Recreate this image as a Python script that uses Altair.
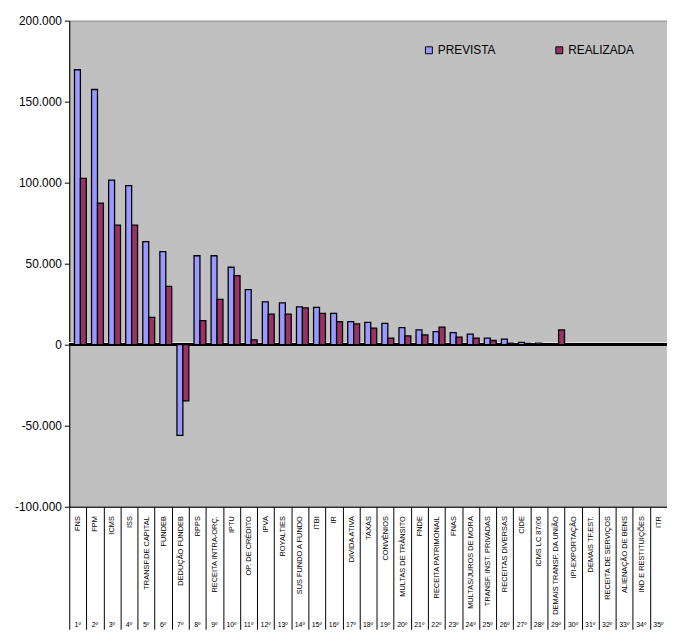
import json
import altair as alt
import pandas as pd

names = ["FNS", "FPM", "ICMS", "ISS", "TRANSF.DE CAPITAL", "FUNDEB", "DEDUÇÃO FUNDEB",
         "RPPS", "RECEITA INTRA-ORÇ.", "IPTU", "OP. DE CRÉDITO", "IPVA", "ROYALTIES",
         "SUS FUNDO A FUNDO", "ITBI", "IR", "DIVIDA ATIVA", "TAXAS", "CONVÊNIOS",
         "MULTAS DE TRÂNSITO", "FNDE", "RECEITA PATRIMONAIL", "FNAS", "MULTAS/JUROS DE MORA",
         "TRANSF. INST. PRIVADAS", "RECEITAS DIVERSAS", "CIDE", "ICMS LC 87/06",
         "DEMAIS TRANSF. DA UNIÃO", "IPI-EXPORTAÇÃO", "DEMAIS TF.EST.", "RECEITA DE SERVIÇOS",
         "ALIENAÇÃO DE BENS", "IND E RESTITUIÇÕES", "ITR"]
prevista = [169700, 157500, 101600, 98200, 63600, 57500, -56000, 54900, 54900, 47800,
            34000, 26400, 25800, 23400, 23000, 19300, 14200, 13800, 13200, 10600,
            9100, 8100, 7500, 6500, 4100, 3500, 1500, 1000, 300, 600,
            400, 200, 100, 100, 100]
realizada = [102600, 87400, 73800, 73800, 16900, 36000, -34600, 14800, 28000, 42700,
             3000, 18900, 18900, 22700, 19300, 14200, 12800, 10200, 4100, 5500,
             6100, 10800, 4700, 4100, 2600, 1000, 800, 600, 9100, 300,
             200, 100, 100, 100, 100]
ordinais = ["1º", "2º", "3º", "4º", "5º", "6º", "7º", "8º", "9º", "10º", "11º", "12º",
            "13º", "14º", "15º", "16º", "17º", "18º", "19º", "20º", "21º", "22º", "23º",
            "24º", "25º", "26º", "27º", "28º", "29º", "30º", "31º", "32º", "33º", "34º", "35º"]
series = ["PREVISTA", "REALIZADA"]
colors = ["#9999FF", "#993366"]
y_ticks = [-100000, -50000, 0, 50000, 100000, 150000, 200000]

rows = []
for n, p, r in zip(names, prevista, realizada):
    rows.append({"cat": n, "serie": "PREVISTA", "valor": p})
    rows.append({"cat": n, "serie": "REALIZADA", "valor": r})
df = pd.DataFrame(rows)
cats_df = pd.DataFrame({"cat": names, "ord": ordinais})

FONT = "Liberation Sans"
xscale = alt.Scale(domain=names, paddingInner=0, paddingOuter=0)
yscale = alt.Scale(domain=[-100000, 200000], nice=False, zero=False)

ylabel = ("(datum.value < 0 ? '-' : '') + "
          "replace(format(abs(datum.value), ',d'), regexp(',', 'g'), '.')")
ordlabel = ("[" + ",".join(json.dumps(o, ensure_ascii=False) for o in ordinais) + "]"
            "[indexof(" + json.dumps(names, ensure_ascii=False) + ", datum.value)]")

yaxis = alt.Axis(title=None, values=y_ticks, labelExpr=ylabel, labelFont=FONT,
                 labelFontSize=12, labelColor="#000000", tickColor="#000000",
                 tickSize=5, domainColor="#000000", grid=False, labelPadding=3)

floor = alt.Chart(df).mark_rule(color="#E6E6E6", strokeWidth=1.5, yOffset=-2).encode(
    y=alt.datum(0, scale=yscale, axis=yaxis)
)
zero = alt.Chart(df).mark_rule(color="#000000", strokeWidth=2).encode(
    y=alt.datum(0, scale=yscale, axis=yaxis)
)

bars = alt.Chart(df).mark_bar(stroke="#000000", strokeWidth=1.3).encode(
    x=alt.X("cat:N", scale=xscale, sort=names,
            axis=alt.Axis(title=None, orient="bottom", tickBand="extent", tickSize=124,
                          tickColor="#000000", tickWidth=1, domainColor="#000000",
                          domainWidth=1, labelAngle=-90, labelAlign="right",
                          labelBaseline="middle", labelPadding=-115, labelFont=FONT,
                          labelFontSize=7.5, labelColor="#000000", labelOverlap=False,
                          labelBound=False)),
    xOffset=alt.XOffset("serie:N", scale=alt.Scale(domain=series, paddingInner=0,
                                                  paddingOuter=0.44, align=1)),
    y=alt.Y("valor:Q", scale=yscale, axis=yaxis),
    color=alt.Color("serie:N", scale=alt.Scale(domain=series, range=colors),
                    legend=alt.Legend(title=None, orient="none", legendX=358, legendY=24,
                                      direction="horizontal", columnPadding=58,
                                      symbolType="square", symbolSize=49,
                                      symbolStrokeColor="#000000", symbolStrokeWidth=1,
                                      labelFont=FONT, labelFontSize=12,
                                      labelColor="#000000", labelOffset=3)),
)

ords = alt.Chart(cats_df).mark_tick(opacity=0).encode(
    x=alt.X("cat:N", scale=xscale, sort=names,
            axis=alt.Axis(title=None, orient="bottom", offset=113, domain=False,
                          ticks=False, labelAngle=0, labelAlign="center",
                          labelBaseline="top", labelExpr=ordlabel, labelFont=FONT,
                          labelFontSize=7, labelColor="#000000", labelPadding=2,
                          labelOverlap=False))
)

chart = alt.layer(floor, zero, bars, ords).resolve_axis(x="independent").properties(
    width=605, height=492, autosize="none",
    padding={"left": 62, "top": 9, "right": 0, "bottom": 124},
    background="#FFFFFF",
).configure_view(fill="#C0C0C0", stroke="#808080", strokeWidth=1)

chart.save("out.html", embed_options={"renderer": "svg", "actions": False})
